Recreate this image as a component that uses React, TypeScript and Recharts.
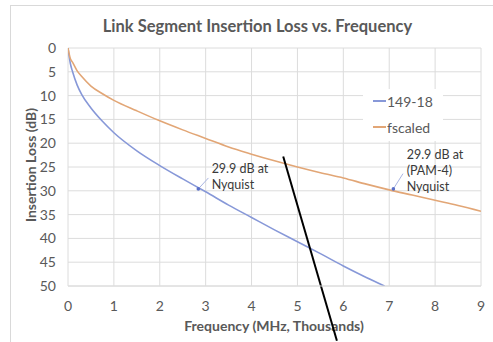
import React from 'react';
import { LineChart, Line, XAxis, YAxis, CartesianGrid, ReferenceLine, ReferenceDot } from 'recharts';

const xTicks = [0, 1, 2, 3, 4, 5, 6, 7, 8, 9];
const yTicks = [0, 5, 10, 15, 20, 25, 30, 35, 40, 45, 50];

const seriesNames = ['149-18', 'fscaled'];
const seriesColors = ['#8798d8', '#e2a676'];

// 149-18 curve (frequency in MHz thousands, loss in dB)
const blueX = [0, 0.05, 0.1, 0.2, 0.3, 0.5, 0.75, 1, 1.5, 2, 2.5, 3, 3.5, 4, 4.5, 5, 5.5, 6, 6.5, 6.9];
const blueY = [0, 3.2, 5, 7.8, 9.8, 12.6, 15.4, 17.8, 21.6, 24.7, 27.5, 30.2, 33, 35.6, 38.2, 40.7, 43.2, 45.8, 48.2, 50];

// fscaled curve
const orangeX = [0, 0.05, 0.1, 0.2, 0.3, 0.5, 0.75, 1, 1.5, 2, 2.5, 3, 3.5, 4, 4.5, 5, 5.5, 6, 6.5, 7, 7.5, 8, 8.5, 9];
const orangeY = [0, 2.2, 3, 4.8, 6, 8, 9.6, 11, 13.2, 15.3, 17.2, 19, 20.8, 22.3, 23.7, 25, 26.2, 27.3, 28.6, 29.8, 30.9, 32, 33.1, 34.3];

// callouts: point on curve, end of leader, text baseline anchor, text lines
const noteTexts = [['29.9 dB at', 'Nyquist'], ['29.9 dB at', '(PAM-4)', 'Nyquist']];
const notePoints = [[2.84, 29.6], [7.09, 29.6]];
const noteTips = [[3.06, 27.3], [7.3, 26.4]];
const noteAnchors = [[3.13, 26.2], [7.38, 23.3]];

// the stray black stroke across the chart
const strokeFrom = [4.69, 22.8];
const strokeTo = [5.86, 61.5];

const blueData = blueX.map((x, i) => ({ x, y: blueY[i] }));
const orangeData = orangeX.map((x, i) => ({ x, y: orangeY[i] }));

const FONT = 'Lato, "Open Sans", sans-serif';
const GREY = '#595959';

export default function App() {
  return (
    <div style={{ position: 'absolute', left: 0, top: 0, width: 493, height: 342, overflow: 'hidden', background: '#fff', fontFamily: FONT }}>
      <div style={{ position: 'absolute', left: 10, top: 5, width: 520, height: 400, border: '1px solid #d9d9d9' }} />
      <div style={{ position: 'absolute', left: 0, width: 515, top: 16, textAlign: 'center', fontSize: 16.5, fontWeight: 700, color: GREY }}>
        Link Segment Insertion Loss vs. Frequency
      </div>
      <div style={{ position: 'absolute', left: 274, top: 317, transform: 'translateX(-50%)', whiteSpace: 'nowrap', fontSize: 14, fontWeight: 700, color: GREY }}>
        Frequency (MHz, Thousands)
      </div>
      <div style={{ position: 'absolute', left: 30, top: 165, transform: 'translate(-50%, -50%) rotate(-90deg)', whiteSpace: 'nowrap', fontSize: 14, fontWeight: 700, color: GREY }}>
        Insertion Loss (dB)
      </div>
      <div style={{ position: 'absolute', left: 0, top: 0 }}>
        <LineChart width={493} height={342} data={orangeData} margin={{ top: 48, right: 12, bottom: 26, left: 38 }}>
          <CartesianGrid stroke="#dcdcdc" strokeWidth={1} verticalValues={xTicks} horizontalValues={yTicks} />
          <XAxis
            type="number"
            dataKey="x"
            domain={[0, 9]}
            ticks={xTicks}
            allowDataOverflow
            height={30}
            tickSize={0}
            tickMargin={15}
            axisLine={{ stroke: '#dcdcdc' }}
            tick={{ fill: GREY, fontSize: 14, fontFamily: FONT }}
          />
          <YAxis
            type="number"
            dataKey="y"
            reversed
            domain={[0, 50]}
            ticks={yTicks}
            allowDataOverflow
            width={30}
            tickSize={0}
            tickMargin={12}
            axisLine={false}
            tick={{ fill: GREY, fontSize: 14, fontFamily: FONT }}
          />
          <Line data={blueData} dataKey="y" name={seriesNames[0]} type="monotone" stroke={seriesColors[0]} strokeWidth={1.6} dot={false} isAnimationActive={false} />
          <Line data={orangeData} dataKey="y" name={seriesNames[1]} type="monotone" stroke={seriesColors[1]} strokeWidth={1.6} dot={false} isAnimationActive={false} />
          {notePoints.map((p, i) => (
            <ReferenceLine
              key={'l' + i}
              segment={[{ x: p[0], y: p[1] }, { x: noteTips[i][0], y: noteTips[i][1] }]}
              stroke="#a9b5e2"
              strokeWidth={1}
            />
          ))}
          {notePoints.map((p, i) => (
            <ReferenceDot key={'d' + i} x={p[0]} y={p[1]} r={1.8} fill="#5a6fc8" stroke="none" />
          ))}
          {noteAnchors.map((a, i) => (
            <ReferenceDot
              key={'t' + i}
              x={a[0]}
              y={a[1]}
              r={0}
              fill="none"
              stroke="none"
              label={(props: any) => (
                <text x={props.viewBox.x} y={props.viewBox.y} fontSize={12.5} fontFamily={FONT} fill="#3a3a3a">
                  {noteTexts[i].map((t, j) => (
                    <tspan key={j} x={props.viewBox.x} dy={j === 0 ? 0 : 16}>{t}</tspan>
                  ))}
                </text>
              )}
            />
          ))}
          <ReferenceLine
            segment={[{ x: strokeFrom[0], y: strokeFrom[1] }, { x: strokeTo[0], y: strokeTo[1] }]}
            stroke="#000"
            strokeWidth={2}
            ifOverflow="visible"
          />
        </LineChart>
      </div>
      <div style={{ position: 'absolute', left: 363, top: 89, width: 80, height: 52, background: '#fff' }}>
        {seriesNames.map((n, i) => (
          <div key={n} style={{ position: 'absolute', left: 10, top: 3 + i * 26, height: 18, display: 'flex', alignItems: 'center', fontSize: 14, color: GREY }}>
            <span style={{ display: 'inline-block', width: 13, height: 2, background: seriesColors[i], marginRight: 1 }} />
            {n}
          </div>
        ))}
      </div>
    </div>
  );
}
